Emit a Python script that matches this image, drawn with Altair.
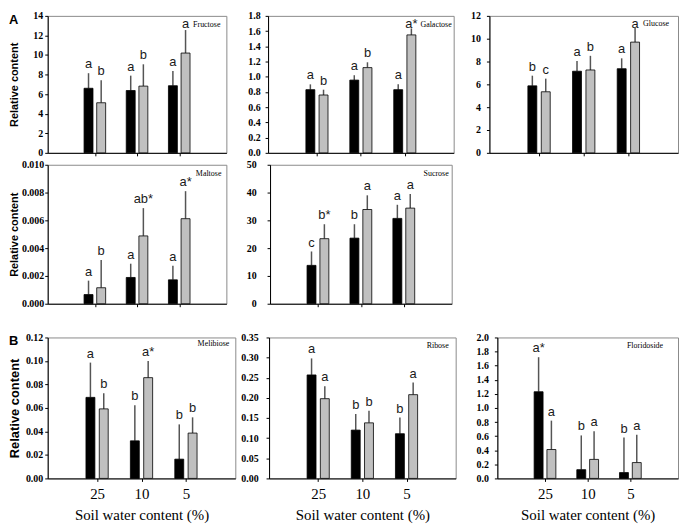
import json
import altair as alt
import pandas as pd

# ---------------- data ----------------
CATEGORIES = ["25", "10", "5"]

FRUCTOSE_DARK = [6.60, 6.37, 6.86]
FRUCTOSE_DARK_SD = [1.54, 1.52, 1.51]
FRUCTOSE_LIGHT = [5.12, 6.82, 10.20]
FRUCTOSE_LIGHT_SD = [2.31, 2.23, 2.35]
FRUCTOSE_DARK_LETTERS = ["a", "a", "a"]
FRUCTOSE_LIGHT_LETTERS = ["b", "b", "a"]

GALACTOSE_DARK = [0.830, 0.956, 0.830]
GALACTOSE_DARK_SD = [0.070, 0.064, 0.070]
GALACTOSE_LIGHT = [0.760, 1.120, 1.550]
GALACTOSE_LIGHT_SD = [0.070, 0.070, 0.085]
GALACTOSE_DARK_LETTERS = ["a", "a", "a"]
GALACTOSE_LIGHT_LETTERS = ["b", "b", "a*"]

GLUCOSE_DARK = [5.87, 7.15, 7.37]
GLUCOSE_DARK_SD = [0.89, 0.89, 0.91]
GLUCOSE_LIGHT = [5.35, 7.26, 9.70]
GLUCOSE_LIGHT_SD = [1.15, 1.24, 1.24]
GLUCOSE_DARK_LETTERS = ["b", "a", "a"]
GLUCOSE_LIGHT_LETTERS = ["c", "b", "a"]

MALTOSE_DARK = [0.00066, 0.00189, 0.00172]
MALTOSE_DARK_SD = [0.00100, 0.00099, 0.00102]
MALTOSE_LIGHT = [0.00115, 0.00488, 0.00612]
MALTOSE_LIGHT_SD = [0.00200, 0.00200, 0.00198]
MALTOSE_DARK_LETTERS = ["a", "a", "a"]
MALTOSE_LIGHT_LETTERS = ["b", "ab*", "a*"]

SUCROSE_DARK = [13.8, 23.6, 30.7]
SUCROSE_DARK_SD = [5.0, 5.0, 4.9]
SUCROSE_LIGHT = [23.4, 33.9, 34.4]
SUCROSE_LIGHT_SD = [5.2, 5.1, 5.1]
SUCROSE_DARK_LETTERS = ["c", "b", "a"]
SUCROSE_LIGHT_LETTERS = ["b*", "a", "a"]

MELIBIOSE_DARK = [0.0690, 0.0320, 0.0164]
MELIBIOSE_DARK_SD = [0.0296, 0.0302, 0.0296]
MELIBIOSE_LIGHT = [0.0592, 0.0858, 0.0386]
MELIBIOSE_LIGHT_SD = [0.0134, 0.0142, 0.0134]
MELIBIOSE_DARK_LETTERS = ["a", "b", "b"]
MELIBIOSE_LIGHT_LETTERS = ["b", "a*", "b"]

RIBOSE_DARK = [0.257, 0.120, 0.111]
RIBOSE_DARK_SD = [0.041, 0.040, 0.040]
RIBOSE_LIGHT = [0.198, 0.138, 0.208]
RIBOSE_LIGHT_SD = [0.031, 0.030, 0.030]
RIBOSE_DARK_LETTERS = ["a", "b", "b"]
RIBOSE_LIGHT_LETTERS = ["a", "b", "a"]

FLORIDOSIDE_DARK = [1.230, 0.124, 0.083]
FLORIDOSIDE_DARK_SD = [0.490, 0.486, 0.497]
FLORIDOSIDE_LIGHT = [0.410, 0.270, 0.225]
FLORIDOSIDE_LIGHT_SD = [0.410, 0.400, 0.395]
FLORIDOSIDE_DARK_LETTERS = ["a*", "b", "b"]
FLORIDOSIDE_LIGHT_LETTERS = ["a", "a", "a"]

Y_TITLE = "Relative content"
X_TITLE = "Soil water content (%)"


def table(dark, dark_sd, light, light_sd, dark_letters, light_letters):
    rows = []
    for i, c in enumerate(CATEGORIES):
        rows.append(dict(cat=c, pos=i + 1, series="dark", value=dark[i],
                         top=dark[i] + dark_sd[i], letter=dark_letters[i]))
        rows.append(dict(cat=c, pos=i + 1, series="light", value=light[i],
                         top=light[i] + light_sd[i], letter=light_letters[i]))
    return pd.DataFrame(rows)


def panel(df, name, ymax, ystep, fmt, width, height, label_pad, name_dx,
          name_y=11, ytitle=False, ytitle_size=11, ytitle_x=-28,
          xlabels=False, letter=None):
    xscale = alt.Scale(domain=[0, len(CATEGORIES) + 1], nice=False, zero=False)
    xvals = list(range(1, len(CATEGORIES) + 1))
    if xlabels:
        xaxis = alt.Axis(values=xvals,
                         labelExpr=json.dumps(CATEGORIES) + "[datum.value - 1]",
                         title=X_TITLE, labelFontSize=15, labelFontWeight="normal",
                         labelPadding=5, titleFont="Liberation Serif",
                         titleFontSize=15, titleFontWeight="normal", titlePadding=6)
    else:
        xaxis = alt.Axis(values=xvals, labels=False, title=None)
    n = int(round(ymax / ystep))
    yvals = [round(k * ystep, 6) for k in range(n + 1)]
    if ytitle:
        yaxis = alt.Axis(values=yvals, format=fmt, labelPadding=label_pad,
                         title=Y_TITLE, titleFont="Liberation Sans",
                         titleFontWeight="bold", titleFontSize=ytitle_size,
                         titleX=ytitle_x)
    else:
        yaxis = alt.Axis(values=yvals, format=fmt, labelPadding=label_pad, title=None)
    yscale = alt.Scale(domain=[0, ymax], nice=False)

    # letters sit just above the error bar, but never closer than ~12px to the top
    cap = ymax * (1 - 17.0 / height)
    base = alt.Chart(df).transform_calculate(
        xp="datum.pos + (datum.series == 'dark' ? -0.15 : 0.15)",
        ly=f"min(datum.top, {cap})",
    )
    X = alt.X("xp:Q", scale=xscale, axis=xaxis)
    errs = base.mark_rule(color="#555555", strokeWidth=1.5).encode(
        x=X,
        y=alt.Y("value:Q", scale=yscale, axis=yaxis),
        y2="top:Q",
    )
    bars = base.mark_bar(size=9, orient="vertical", stroke="black", strokeWidth=0.8).encode(
        x=X,
        y=alt.Y("value:Q", scale=yscale, axis=yaxis),
        color=alt.Color("series:N",
                        scale=alt.Scale(domain=["dark", "light"], range=["#000000", "#c0c0c0"]),
                        legend=None),
    )
    letters = base.mark_text(font="Liberation Sans", fontSize=13, baseline="alphabetic",
                             dy=-5, color="#1a1a1a").encode(
        x=X,
        y=alt.Y("ly:Q", scale=yscale, axis=yaxis),
        text="letter:N",
    )
    name_txt = alt.Chart(pd.DataFrame({"t": [name]})).mark_text(
        font="Liberation Serif", fontSize=8, align="right", baseline="alphabetic",
        color="black"
    ).encode(x=alt.value(width - name_dx), y=alt.value(name_y), text="t:N")
    layers = [errs, bars, letters, name_txt]
    if letter:
        layers.append(
            alt.Chart(pd.DataFrame({"t": [letter]})).mark_text(
                font="Liberation Sans", fontSize=13, fontWeight="bold",
                align="left", baseline="top", color="black"
            ).encode(x=alt.value(-39), y=alt.value(-2), text="t:N")
        )
    return alt.layer(*layers).properties(width=width, height=height)


H1, H2, H3 = 138, 140, 142

fructose = panel(table(FRUCTOSE_DARK, FRUCTOSE_DARK_SD, FRUCTOSE_LIGHT, FRUCTOSE_LIGHT_SD,
                       FRUCTOSE_DARK_LETTERS, FRUCTOSE_LIGHT_LETTERS),
                 "Fructose", 14, 2, "d", 180, H1, 2, 6, ytitle=True, letter="A")
galactose = panel(table(GALACTOSE_DARK, GALACTOSE_DARK_SD, GALACTOSE_LIGHT, GALACTOSE_LIGHT_SD,
                        GALACTOSE_DARK_LETTERS, GALACTOSE_LIGHT_LETTERS),
                  "Galactose", 1.8, 0.2, ".1f", 187, H1, 5, 2)
glucose = panel(table(GLUCOSE_DARK, GLUCOSE_DARK_SD, GLUCOSE_LIGHT, GLUCOSE_LIGHT_SD,
                      GLUCOSE_DARK_LETTERS, GLUCOSE_LIGHT_LETTERS),
                "Glucose", 12, 2, "d", 190, H1, 6, 9, name_y=10)

maltose = panel(table(MALTOSE_DARK, MALTOSE_DARK_SD, MALTOSE_LIGHT, MALTOSE_LIGHT_SD,
                      MALTOSE_DARK_LETTERS, MALTOSE_LIGHT_LETTERS),
                "Maltose", 0.010, 0.002, ".3f", 180, H2, 1, 5, ytitle=True)
sucrose = panel(table(SUCROSE_DARK, SUCROSE_DARK_SD, SUCROSE_LIGHT, SUCROSE_LIGHT_SD,
                      SUCROSE_DARK_LETTERS, SUCROSE_LIGHT_LETTERS),
                "Sucrose", 50, 10, "d", 183, H2, 11, 3)

melibiose = panel(table(MELIBIOSE_DARK, MELIBIOSE_DARK_SD, MELIBIOSE_LIGHT, MELIBIOSE_LIGHT_SD,
                        MELIBIOSE_DARK_LETTERS, MELIBIOSE_LIGHT_LETTERS),
                  "Melibiose", 0.12, 0.02, ".2f", 189, H3, 2, 6, name_y=9,
                  ytitle=True, ytitle_size=13, ytitle_x=-26, xlabels=True, letter="B")
ribose = panel(table(RIBOSE_DARK, RIBOSE_DARK_SD, RIBOSE_LIGHT, RIBOSE_LIGHT_SD,
                     RIBOSE_DARK_LETTERS, RIBOSE_LIGHT_LETTERS),
               "Ribose", 0.35, 0.05, ".2f", 188, H3, 8, 7, xlabels=True)
floridoside = panel(table(FLORIDOSIDE_DARK, FLORIDOSIDE_DARK_SD, FLORIDOSIDE_LIGHT, FLORIDOSIDE_LIGHT_SD,
                          FLORIDOSIDE_DARK_LETTERS, FLORIDOSIDE_LIGHT_LETTERS),
                    "Floridoside", 2.0, 0.2, ".1f", 182, H3, 6, 15, name_y=11, xlabels=True)

row1 = alt.hconcat(alt.hconcat(fructose, galactose, spacing=20), glucose, spacing=15)
row2 = alt.hconcat(maltose, sucrose, spacing=18)
row3 = alt.hconcat(alt.hconcat(melibiose, ribose, spacing=4), floridoside, spacing=19)

chart = alt.vconcat(alt.vconcat(row1, row2, spacing=0), row3, spacing=22).properties(
    padding=0
).configure_view(
    stroke="#8a8a8a", strokeWidth=1
).configure_axis(
    grid=False, domainColor="black", tickColor="black", tickSize=3,
    labelFont="Liberation Serif", labelFontSize=10, labelFontWeight="bold",
    labelColor="black", titleColor="black"
)

chart.save("out.html", embed_options={"renderer": "svg", "actions": False})
